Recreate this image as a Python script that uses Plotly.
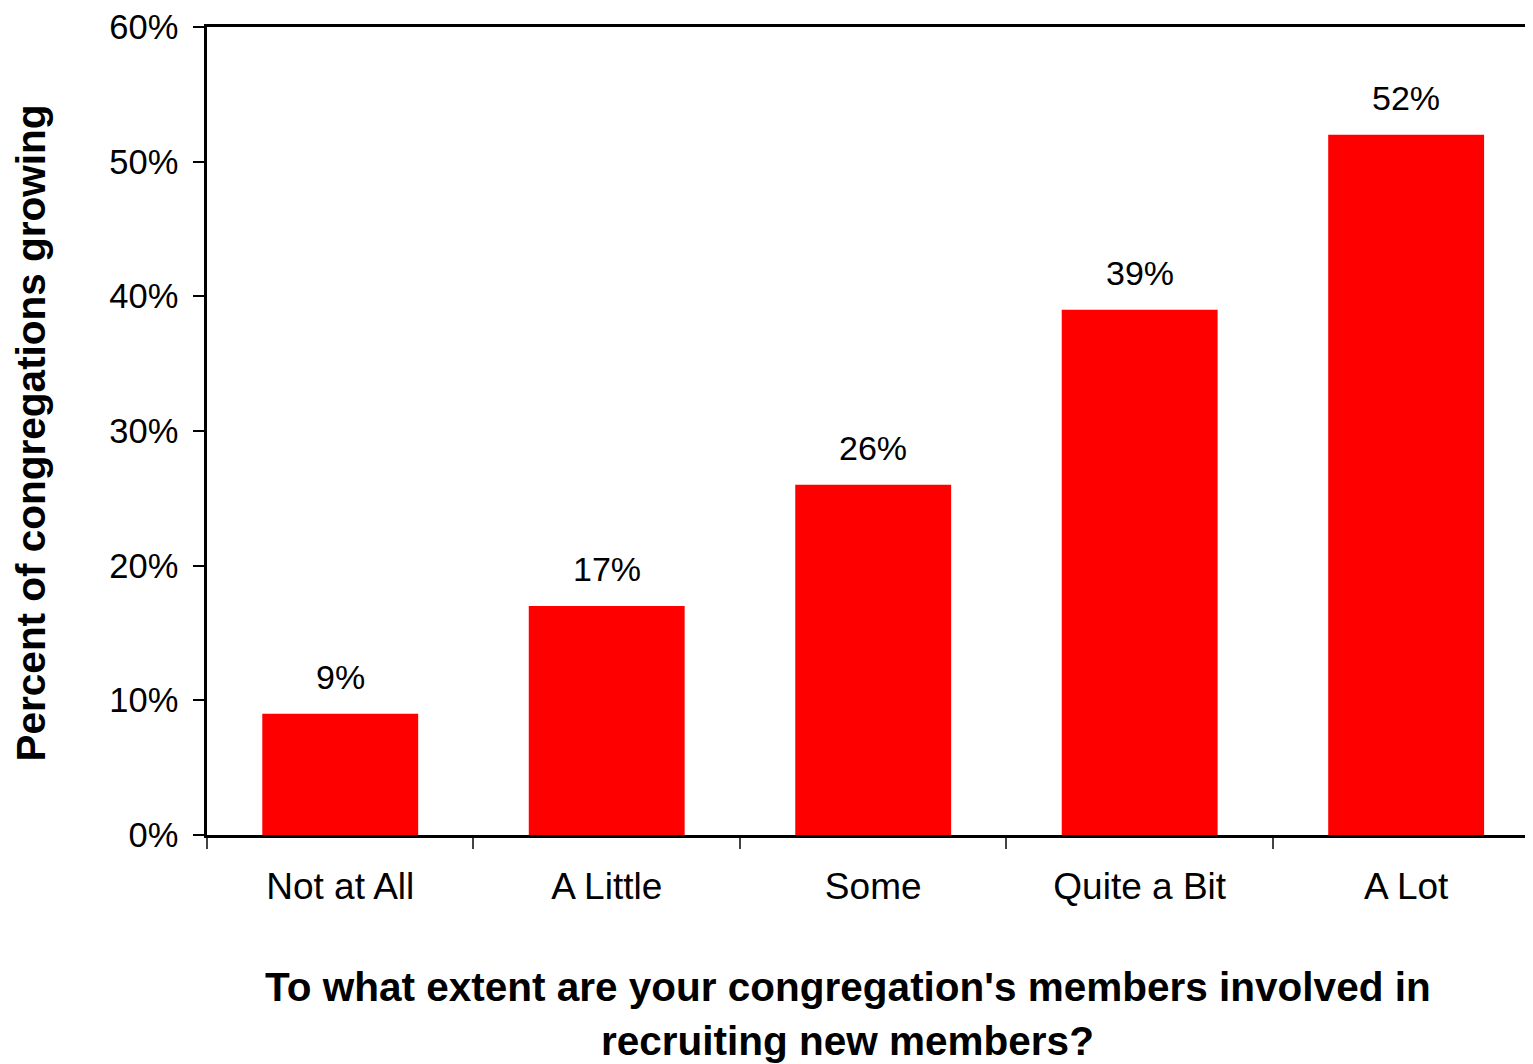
import plotly.graph_objects as go

categorias = ['Not at All', 'A Little', 'Some', 'Quite a Bit', 'A Lot']
percentual = [0.09, 0.17, 0.26, 0.39, 0.52]
rotulos = ['9%', '17%', '26%', '39%', '52%']

fonte = 'Liberation Sans, Arial, sans-serif'

fig = go.Figure()
fig.add_trace(go.Bar(x=categorias, y=percentual, width=0.585,
                     marker=dict(color='#FF0000', line=dict(width=0)),
                     showlegend=False, hoverinfo='skip'))

# data labels above each bar
for cat, val, txt in zip(categorias, percentual, rotulos):
    fig.add_annotation(x=cat, y=val, text=txt, showarrow=False, yanchor='bottom',
                       yshift=16, font=dict(family=fonte, size=34, color='black'))

# x title, two lines placed separately
fig.add_annotation(xref='paper', yref='paper', x=0.4834, y=-0.1882, yanchor='middle', xanchor='center',
                   text="<b>To what extent are your congregation's members involved in</b>",
                   showarrow=False, font=dict(family=fonte, size=40.5, color='black'))
fig.add_annotation(xref='paper', yref='paper', x=0.4834, y=-0.2546, yanchor='middle', xanchor='center',
                   text='<b>recruiting new members?</b>',
                   showarrow=False, font=dict(family=fonte, size=40.5, color='black'))
fig.add_annotation(xref='paper', yref='paper', x=-0.1327, y=0.497, textangle=-90,
                   xanchor='center', yanchor='middle',
                   text='<b>Percent of congregations growing</b>', showarrow=False,
                   font=dict(family=fonte, size=40.5, color='black'))

fig.update_layout(
    width=1525, height=1056,
    margin=dict(l=199, r=0, t=14, b=229),
    plot_bgcolor='white', paper_bgcolor='white',
    font=dict(family=fonte, size=34, color='black'),
)
fig.update_xaxes(range=[-0.5, 4.476], showline=True, linecolor='black', linewidth=2.5,
                 mirror=True, ticks='outside', tickson='boundaries', ticklen=11,
                 tickcolor='#444444', tickwidth=1.5, showgrid=False,
                 tickfont=dict(size=37), ticklabelstandoff=17)
fig.update_yaxes(range=[0, 0.6], dtick=0.1, tickformat='.0%', showline=True,
                 linecolor='black', linewidth=2.5, ticks='outside', ticklen=11,
                 tickcolor='black', tickwidth=2, showgrid=False, zeroline=False,
                 tickfont=dict(size=34.5), ticklabelstandoff=8,
                 ticklabeloverflow='allow')

fig.write_html('out.html')
